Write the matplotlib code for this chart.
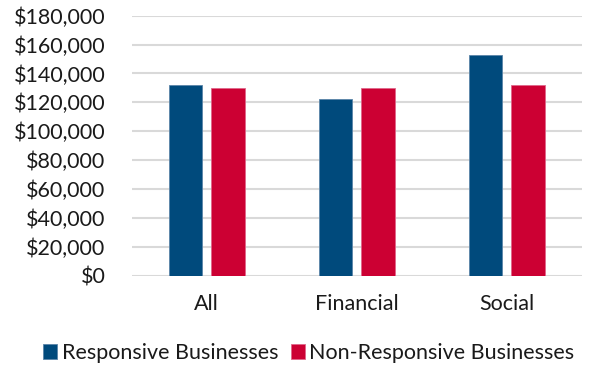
import matplotlib.pyplot as plt
import numpy as np
from matplotlib.ticker import FuncFormatter

categories = ["All", "Financial", "Social"]
responsive = [132000, 122000, 153000]
non_responsive = [130000, 130000, 132000]
series_names = ["Responsive Businesses", "Non-Responsive Businesses"]

BLUE = "#004A7C"
RED = "#CC0033"
GRID = "#D9D9D9"
FS = 15.5

plt.rcParams["font.family"] = ["Lato", "DejaVu Sans"]

fig = plt.figure(figsize=(5.89, 3.68), dpi=100)
ax = fig.add_axes([0.2236, 0.2508, 0.7644, 0.7065])

x = np.arange(len(categories))
width = 0.225
offset = 0.142

ax.bar(x - offset, responsive, width, color=BLUE, edgecolor="#5A84A8",
       linewidth=0.6, label=series_names[0], zorder=3)
ax.bar(x + offset, non_responsive, width, color=RED, edgecolor="#E0668A",
       linewidth=0.6, label=series_names[1], zorder=3)

ax.set_xlim(-0.5, len(categories) - 0.5)
ax.set_ylim(0, 180000)
ax.set_yticks(np.arange(0, 180001, 20000))
ax.yaxis.set_major_formatter(FuncFormatter(lambda v, _: f"${v:,.0f}"))
ax.set_xticks(x)
ax.set_xticklabels(categories)

ax.grid(axis="y", color=GRID, linewidth=1.5, zorder=0)
for s in ax.spines.values():
    s.set_visible(False)
ax.tick_params(axis="both", length=0, labelsize=FS, colors="#1a1a1a")
ax.tick_params(axis="y", pad=19)
ax.tick_params(axis="x", pad=13)

fig.legend(loc="center", bbox_to_anchor=(309 / 589, 1 - 353 / 368),
           ncol=2, frameon=False, fontsize=FS, handlelength=0.65,
           handleheight=0.65, handletextpad=0.2, columnspacing=0.6,
           labelcolor="#1a1a1a")

fig.savefig("out.png", dpi=100)
